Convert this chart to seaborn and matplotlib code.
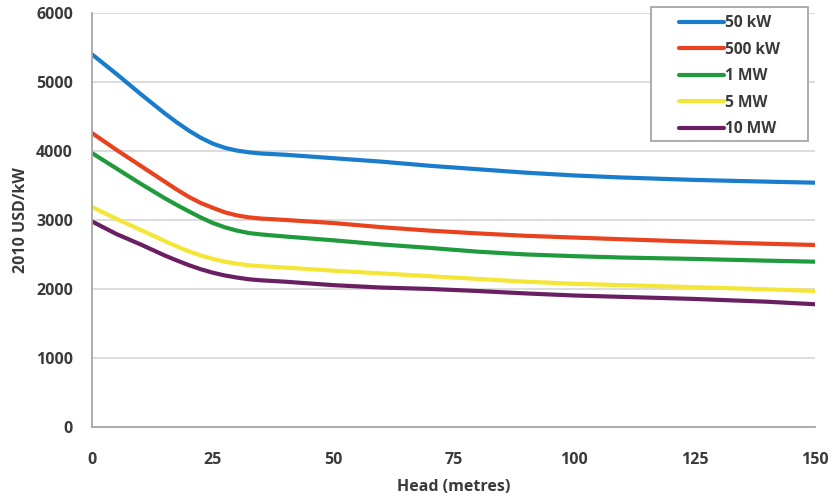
import numpy as np
import pandas as pd
import matplotlib
matplotlib.use("Agg")
import matplotlib.pyplot as plt
import seaborn as sns
from matplotlib.patches import Rectangle

head = [0, 5, 10, 15, 17.5, 20, 22.5, 25, 27.5, 30, 32.5, 35, 40, 50, 60, 70, 80, 90, 100, 110, 125, 140, 150]
kw50 = [5400, 5120, 4830, 4550, 4420, 4300, 4195, 4110, 4050, 4010, 3985, 3968, 3950, 3900, 3850, 3790, 3740, 3690, 3650, 3620, 3585, 3560, 3545]
kw500 = [4260, 4020, 3790, 3560, 3445, 3340, 3250, 3180, 3115, 3070, 3042, 3025, 3005, 2960, 2900, 2850, 2810, 2775, 2750, 2725, 2690, 2660, 2642]
mw1 = [3970, 3750, 3530, 3320, 3222, 3130, 3040, 2960, 2898, 2850, 2815, 2795, 2765, 2710, 2650, 2600, 2545, 2505, 2480, 2460, 2440, 2415, 2400]
mw5 = [3190, 3020, 2860, 2700, 2622, 2550, 2490, 2440, 2400, 2370, 2348, 2335, 2315, 2270, 2230, 2190, 2150, 2110, 2080, 2060, 2030, 2000, 1975]
mw10 = [2980, 2800, 2650, 2490, 2418, 2350, 2290, 2240, 2200, 2170, 2145, 2130, 2110, 2060, 2025, 2005, 1975, 1940, 1910, 1890, 1860, 1820, 1783]

series_names = ["50 kW", "500 kW", "1 MW", "5 MW", "10 MW"]
colors = ["#1a7ccc", "#e8431e", "#1f9a3c", "#f4e637", "#6a1f62"]
x_ticks = [0, 25, 50, 75, 100, 125, 150]
y_ticks = [0, 1000, 2000, 3000, 4000, 5000, 6000]

frames = []
for name, vals in zip(series_names, [kw50, kw500, mw1, mw5, mw10]):
    frames.append(pd.DataFrame({"Head": head, "Cost": vals, "Size": name}))
df = pd.concat(frames, ignore_index=True)

sns.set_theme(style="white")
plt.rcParams["font.family"] = ["Open Sans", "DejaVu Sans"]
plt.rcParams["font.weight"] = "bold"

fig = plt.figure(figsize=(8.33, 4.98), dpi=100)
ax = fig.add_axes([0.111, 0.142, 0.8675, 0.8313])

ax.yaxis.grid(True, color="#d9d9d9", linewidth=1.3, zorder=0)
ax.set_axisbelow(True)

sns.lineplot(data=df, x="Head", y="Cost", hue="Size", hue_order=series_names,
             palette=colors, linewidth=3, ax=ax, legend=False, zorder=2)
for ln in ax.get_lines():
    ln.set_solid_joinstyle("round")
    ln.set_solid_capstyle("round")

ax.set_xlim(0, 150)
ax.set_ylim(0, 6000)
ax.set_xticks(x_ticks)
ax.set_yticks(y_ticks)
ax.set_xticklabels([str(t) for t in x_ticks])
ax.set_yticklabels([str(t) for t in y_ticks])

for side in ["top", "right"]:
    ax.spines[side].set_visible(False)
for side in ["left", "bottom"]:
    ax.spines[side].set_color("#a6a6a6")
    ax.spines[side].set_linewidth(1.3)

ax.tick_params(axis="both", which="major", direction="out", length=5, width=1.2,
               color="#a6a6a6", labelsize=11.5, labelcolor="#3a3a3a")
ax.tick_params(axis="y", pad=9)
ax.tick_params(axis="x", pad=13)
for lab in ax.get_xticklabels() + ax.get_yticklabels():
    lab.set_fontweight("bold")

ax.set_xlabel("Head (metres)", fontsize=11.5, fontweight="bold", color="#3a3a3a", labelpad=8)
ax.set_ylabel("2010 USD/kW", fontsize=11.5, fontweight="bold", color="#3a3a3a", labelpad=5)

# legend frame
rect = Rectangle((0.773, 0.6915), 0.217, 0.323, transform=ax.transAxes,
                 facecolor="white", edgecolor="#a6a6a6", linewidth=1.3,
                 clip_on=False, zorder=4)
ax.add_patch(rect)

handles = [plt.Line2D([], [], color=c, linewidth=3) for c in colors]
leg = ax.legend(handles, series_names, loc="upper left",
                bbox_to_anchor=(0.8115, 0.996), frameon=False,
                handlelength=2.9, handletextpad=0.05, labelspacing=0.68,
                borderpad=0, borderaxespad=0,
                prop={"family": ["Open Sans", "DejaVu Sans"], "weight": "bold", "size": 11.2})
leg.set_zorder(5)
for t in leg.get_texts():
    t.set_color("#3a3a3a")

fig.savefig("out.png", dpi=100)
